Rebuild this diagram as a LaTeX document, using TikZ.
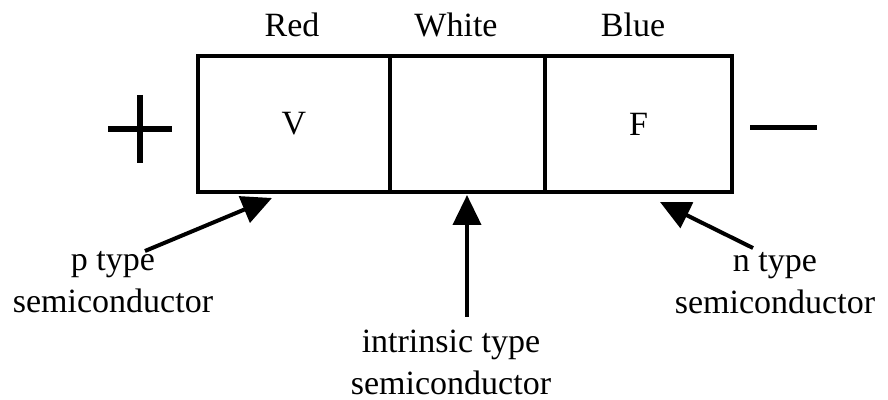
\documentclass[tikz,border=0pt]{standalone}
\usepackage{fontspec}
\setmainfont{Liberation Serif}
\usetikzlibrary{arrows.meta,positioning}

\begin{document}
\begin{tikzpicture}[x = .5pt, y = -.5pt, font = \fontsize{17}{21}\selectfont,
  cell/.style = {draw, line width = 2pt, minimum height = 68pt, inner sep = 0pt, outer sep = 0pt, anchor = north west},
  pointer/.style = {-{Triangle[length = 15pt, width = 14pt]}, line width = 2pt}]
\useasboundingbox (0,0) rectangle (888,400);
\node[cell, minimum width = 96pt] (red) at (198,56) {V};
\node[cell, minimum width = 77.5pt] (white) at (red.north east) {};
\node[cell, minimum width = 93.5pt] (blue) at (white.north east) {F};
\node[anchor = base] (redlbl) at (292,37) {Red};
\node[anchor = base] (whitelbl) at (456,37) {White};
\node[anchor = base] (bluelbl) at (633,37) {Blue};
\draw[line width = 3pt] (108,129) -- (172,129);
\draw[line width = 3pt] (140,95) -- (140,163);
\draw[line width = 2.5pt] (750,128) -- (817,128);
\node[align = center] (ptype) at (113,282) {p type\\semiconductor};
\node[align = center] (itype) at (451,362) {intrinsic type\\semiconductor};
\node[align = center] (ntype) at (775,283) {n type\\semiconductor};
\coordinate (ptail) at (145,251);
\coordinate (ptip) at (272,198);
\coordinate (itail) at (467,317);
\coordinate (itip) at (467,195);
\coordinate (ntail) at (753,248);
\coordinate (ntip) at (660,202);
\draw[pointer] (ptail) -- (ptip);
\draw[pointer] (itail) -- (itip);
\draw[pointer] (ntail) -- (ntip);
\end{tikzpicture}
\end{document}
